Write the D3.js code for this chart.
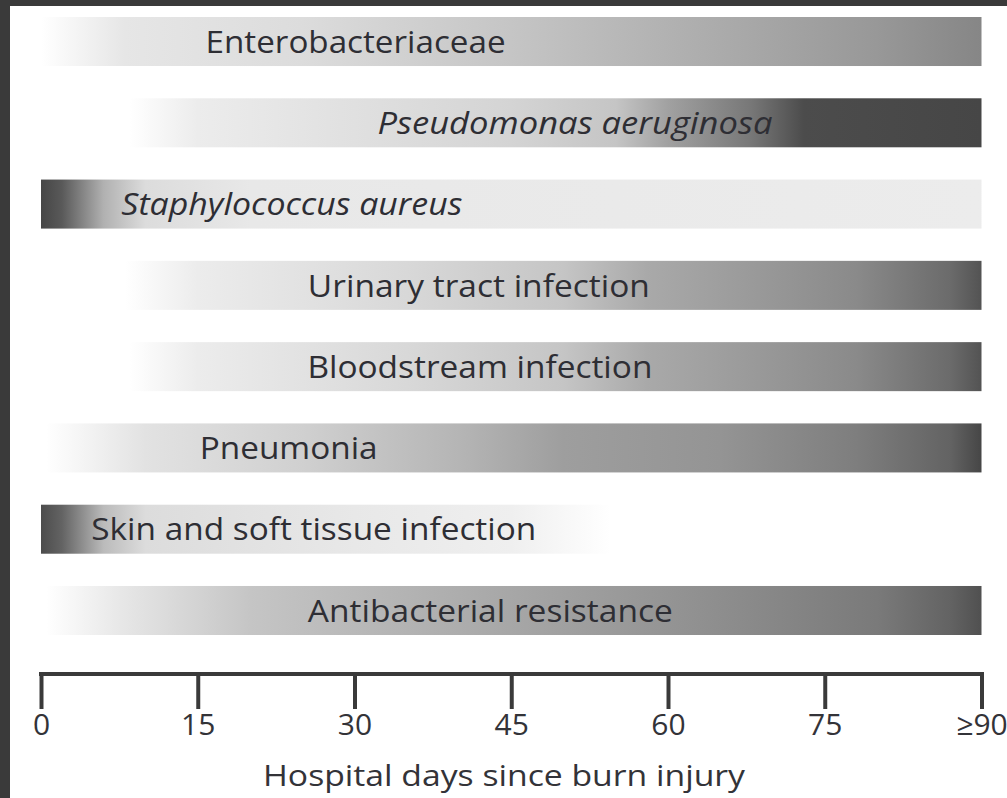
<!DOCTYPE html>
<html>
<head>
<meta charset="utf-8">
<script src="https://cdn.jsdelivr.net/npm/d3@7"></script>
<style>
  html, body { margin: 0; padding: 0; background: #3a3a3a; overflow: hidden; }
  svg { display: block; }
</style>
</head>
<body>
<svg id="chart" width="1007" height="798"></svg>
<script>
// ---------- data ----------
const categories = [
  "Enterobacteriaceae",
  "Pseudomonas aeruginosa",
  "Staphylococcus aureus",
  "Urinary tract infection",
  "Bloodstream infection",
  "Pneumonia",
  "Skin and soft tissue infection",
  "Antibacterial resistance"
];
const italicLabels = [false, true, true, false, false, false, false, false];
// start / end of each band in hospital days
const startDays = [0, 8.5, 0, 8, 8.5, 0.5, 0, 0.5];
const endDays   = [90, 90, 90, 90, 90, 90, 54.5, 90];
// day at which each label is centred
const labelDays = [30.1, 51.1, 24.0, 41.9, 42.0, 23.7, 26.1, 43.0];
// relative intensity (0 = none, 1 = highest) at points along each band: [day, intensity]
const intensityProfiles = [
  [[0,0],[8,0.13],[25,0.18],[45,0.3],[65,0.43],[80,0.53],[90,0.62]],
  [[8.5,0],[15,0.1],[45,0.22],[55,0.3],[60,0.48],[68,0.7],[73,0.92],[90,0.95]],
  [[0,0.95],[2,0.85],[6,0.4],[10,0.18],[20,0.12],[90,0.1]],
  [[8,0],[15,0.1],[35,0.2],[50,0.3],[58,0.44],[68,0.52],[78,0.6],[87,0.76],[90,0.88]],
  [[8.5,0],[15,0.1],[35,0.2],[50,0.3],[58,0.44],[68,0.52],[78,0.6],[87,0.76],[90,0.88]],
  [[0.5,0],[10,0.15],[25,0.24],[40,0.38],[50,0.5],[65,0.55],[78,0.66],[87,0.8],[90,0.95]],
  [[0,0.92],[2,0.8],[6,0.35],[10,0.18],[30,0.12],[45,0.08],[54.5,0]],
  [[0.5,0],[8,0.13],[20,0.3],[40,0.42],[60,0.55],[80,0.68],[87,0.8],[90,0.9]]
];
const tickValues = [0, 15, 30, 45, 60, 75, 90];
const tickLabels = ["0", "15", "30", "45", "60", "75", "\u226590"];
const axisTitle = "Hospital days since burn injury";

// ---------- drawing ----------
const svg = d3.select("#chart");
svg.append("rect").attr("x", 10).attr("y", 6).attr("width", 997).attr("height", 792).attr("fill", "#ffffff");

const x = d3.scaleLinear().domain([0, 90]).range([41, 981.5]);
const y = d3.scaleBand().domain(categories).range([17, 635]).paddingInner(0.397).paddingOuter(0);
const shade = d3.scaleLinear().domain([0, 1]).range(["#ffffff", "#3c3c3c"]).interpolate(d3.interpolateRgb);

const defs = svg.append("defs");
categories.forEach((c, i) => {
  const g = defs.append("linearGradient")
    .attr("id", "grad" + i)
    .attr("gradientUnits", "userSpaceOnUse")
    .attr("x1", x(startDays[i])).attr("x2", x(endDays[i]))
    .attr("y1", 0).attr("y2", 0);
  const span = endDays[i] - startDays[i];
  intensityProfiles[i].forEach(([d, v]) => {
    g.append("stop")
      .attr("offset", ((d - startDays[i]) / span * 100) + "%")
      .attr("stop-color", shade(v));
  });
});

const rows = svg.append("g").selectAll("g.row")
  .data(categories).join("g").attr("class", "row");

rows.append("rect")
  .attr("x", (d, i) => x(startDays[i]))
  .attr("y", d => y(d))
  .attr("width", (d, i) => x(endDays[i]) - x(startDays[i]))
  .attr("height", y.bandwidth())
  .attr("fill", (d, i) => `url(#grad${i})`);

const fontFam = "'Open Sans', 'Noto Sans', sans-serif";
const labelWidths = [300, 395, 341, 342, 345, 178, 445, 365];
rows.append("text")
  .attr("x", (d, i) => x(labelDays[i]))
  .attr("y", d => y(d) + y.bandwidth() / 2)
  .attr("dy", "0.36em")
  .attr("text-anchor", "middle")
  .attr("font-family", fontFam)
  .attr("font-size", 31)
  .attr("font-weight", 500)
  .attr("font-style", (d, i) => italicLabels[i] ? "italic" : "normal")
  .attr("fill", "#2e2e34")
  .attr("textLength", (d, i) => labelWidths[i])
  .attr("lengthAdjust", "spacingAndGlyphs")
  .text(d => d);

// axis
const axisY = 674;
const axis = d3.axisBottom(x)
  .tickValues(tickValues)
  .tickFormat((d, i) => tickLabels[i])
  .tickSizeInner(35)
  .tickSizeOuter(0)
  .tickPadding(5);

const ax = svg.append("g").attr("transform", `translate(0,${axisY})`).call(axis);
ax.select(".domain").attr("stroke", "#3a3a3a").attr("stroke-width", 4)
  .attr("d", `M${x(0) - 2},0H${x(90) + 2}`);
ax.selectAll(".tick line").attr("stroke", "#3a3a3a").attr("stroke-width", 4).attr("y1", -2);
ax.selectAll(".tick text")
  .attr("font-family", fontFam)
  .attr("font-size", 30)
  .attr("fill", "#333338");

svg.append("text")
  .attr("x", 504)
  .attr("y", 786)
  .attr("text-anchor", "middle")
  .attr("font-family", fontFam)
  .attr("font-size", 30)
  .attr("fill", "#333338")
  .attr("textLength", 482)
  .attr("lengthAdjust", "spacingAndGlyphs")
  .text(axisTitle);
</script>
</body>
</html>
